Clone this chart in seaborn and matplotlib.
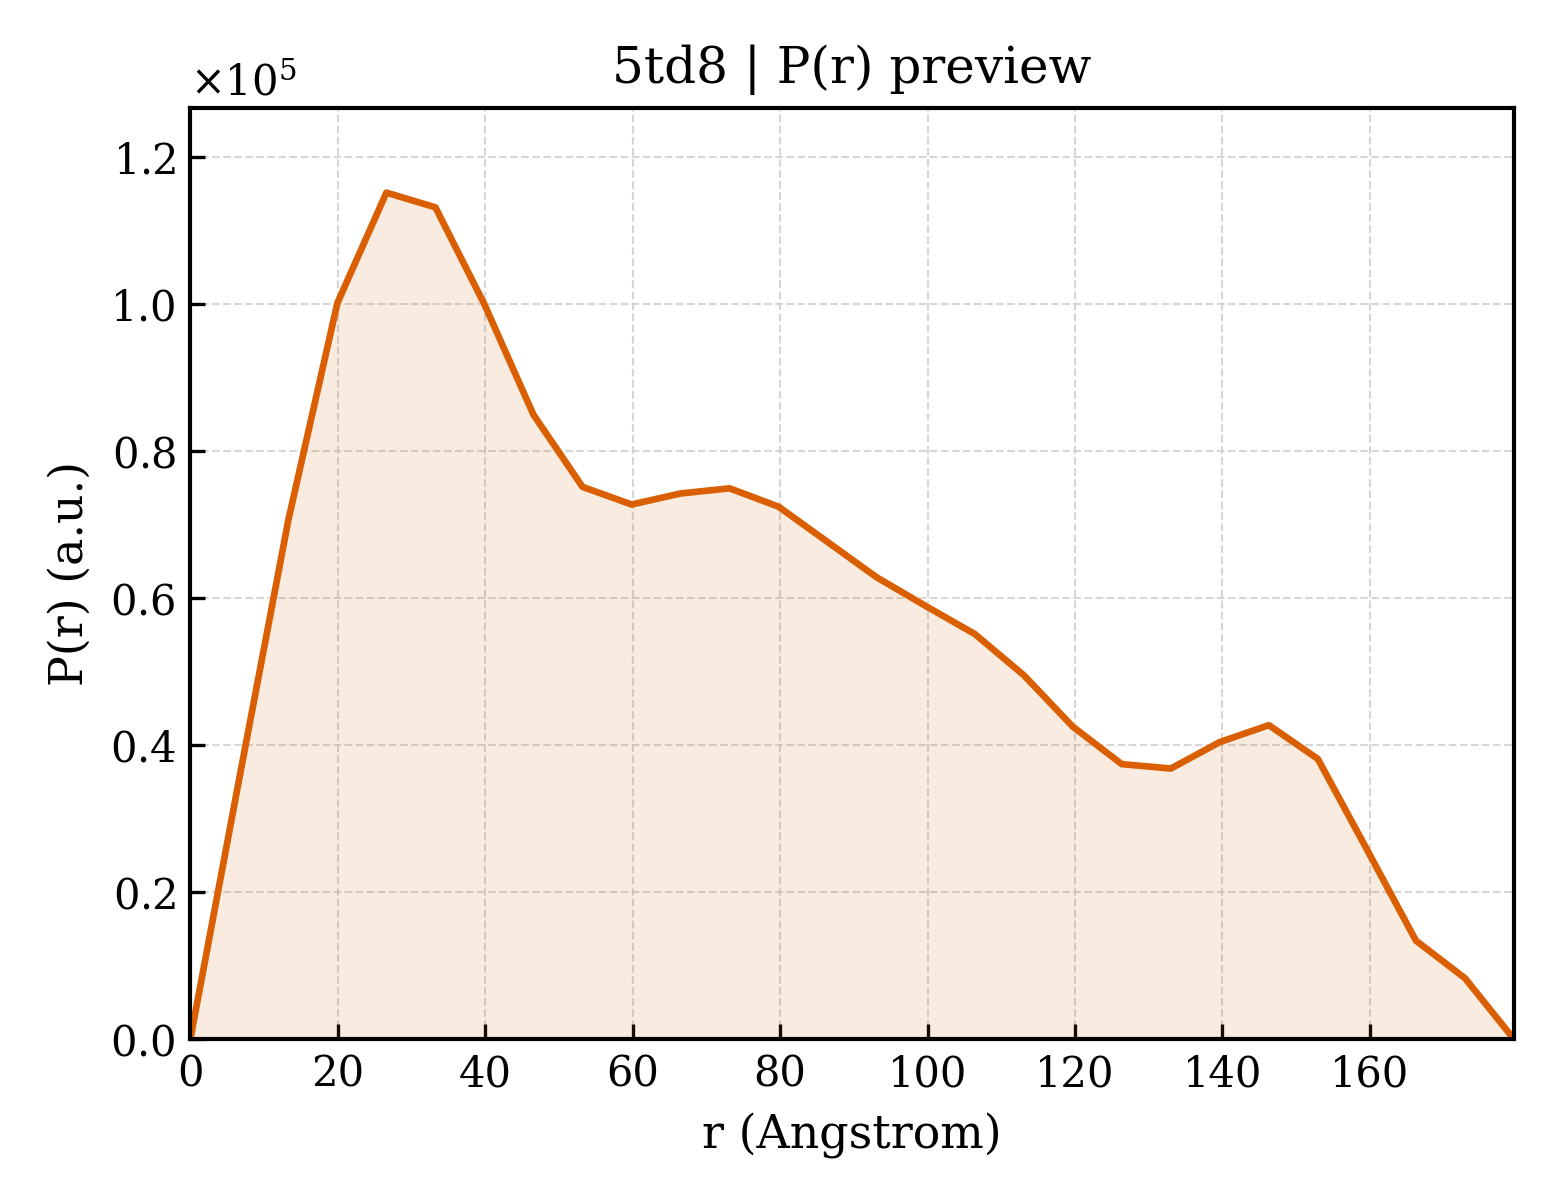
"""P(r) preview for 5td8."""

import matplotlib

matplotlib.use("Agg")
import matplotlib.pyplot as plt
import numpy as np
import pandas as pd
import seaborn as sns
from matplotlib.ticker import ScalarFormatter


R_VALUES = [
    0.0, 6.65, 13.3, 19.95, 26.6, 33.25, 39.9, 46.55, 53.2, 59.85,
    66.5, 73.15, 79.8, 86.45, 93.1, 99.75, 106.4, 113.05, 119.7, 126.35,
    133.0, 139.65, 146.3, 152.95, 159.6, 166.25, 172.9, 179.55,
]
PR_VALUES = [
    0, 35500, 70600, 100100, 115100, 113100, 99900, 84900, 75100, 72700,
    74200, 74900, 72400, 67600, 62800, 58900, 55100, 49500, 42500, 37400,
    36800, 40400, 42700, 38100, 25800, 13400, 8300, 0,
]
LINE_COLOR = "#d95f02"


def main():
    sns.set_theme(style="ticks")
    plt.rcParams["font.family"] = ["DejaVu Serif"]
    plt.rcParams["mathtext.fontset"] = "dejavuserif"
    for key in ("text.color", "axes.labelcolor", "xtick.color", "ytick.color"):
        plt.rcParams[key] = "black"

    data = pd.DataFrame({"r": R_VALUES, "pr": PR_VALUES})

    figure, ax = plt.subplots(figsize=(5.2, 4), dpi=300)
    figure.subplots_adjust(left=0.122, right=0.9705, top=0.91, bottom=0.134)

    ax.fill_between(data["r"], data["pr"], color=LINE_COLOR, alpha=0.12, linewidth=0)
    sns.lineplot(data=data, x="r", y="pr", color=LINE_COLOR, linewidth=1.6, ax=ax)

    ax.set_xlim(0, data["r"].max())
    ax.set_ylim(0, data["pr"].max() * 1.1)
    ax.set_xticks(np.arange(0, 161, 20))
    ax.set_yticks(np.arange(0, 1.21e5, 0.2e5))

    formatter = ScalarFormatter(useMathText=True)
    formatter.set_powerlimits((0, 0))
    ax.yaxis.set_major_formatter(formatter)
    ax.yaxis.get_offset_text().set_fontsize(10)

    ax.grid(True, linestyle="--", linewidth=0.5, color="#cccccc", alpha=0.8)
    ax.tick_params(direction="in", length=3.5, width=0.8, labelsize=10,
                   colors="black", top=False, right=False)
    for spine in ax.spines.values():
        spine.set_linewidth(1.0)
        spine.set_color("black")

    ax.set_xlabel("r (Angstrom)", fontsize=11, color="black")
    ax.set_ylabel("P(r) (a.u.)", fontsize=11, color="black")
    ax.set_title("5td8 | P(r) preview", fontsize=12, color="black")

    figure.savefig("out.png", dpi=300)
    plt.close(figure)


if __name__ == "__main__":
    main()
